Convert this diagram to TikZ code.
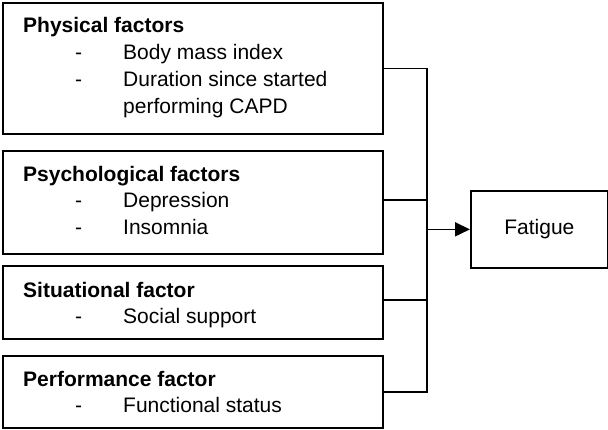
\documentclass[tikz,border=0pt]{standalone}
\usepackage{fontspec}
\setmainfont{Liberation Sans}
\usetikzlibrary{arrows.meta}
\begin{document}
\begin{tikzpicture}[x=1pt,y=-1pt,
  box/.style={draw,line width=1.7pt,anchor=north west,inner sep=0pt},
  txt/.style={anchor=base west,inner sep=0pt,font=\fontsize{21}{25}\selectfont},
  ttl/.style={txt,font=\fontsize{21}{25}\selectfont\bfseries},
  conn/.style={line width=1.7pt}]
\useasboundingbox (0,0) rectangle (608,429);
% boxes
\node[box,minimum width=380pt,minimum height=131pt] (b1) at (2,2) {};
\node[box,minimum width=380pt,minimum height=103pt] (b2) at (2,150) {};
\node[box,minimum width=380pt,minimum height=73pt] (b3) at (2,265) {};
\node[box,minimum width=380pt,minimum height=72pt] (b4) at (2,355) {};
\node[box,minimum width=137pt,minimum height=77pt] (fat) at (470,190) {};
\node[txt,anchor=center] (fatt) at (fat.center) {Fatigue};
% texts box 1
\node[ttl] (t1) at (23,32) {Physical factors};
\node[txt] (d11) at (75,59) {-};
\node[txt] (i11) at (123,59) {Body mass index};
\node[txt] (d12) at (75,86) {-};
\node[txt] (i12) at (123,86) {Duration since started};
\node[txt] (i13) at (123,113) {performing CAPD};
% box 2
\node[ttl] (t2) at (23,181) {Psychological factors};
\node[txt] (d21) at (75,207) {-};
\node[txt] (i21) at (123,207) {Depression};
\node[txt] (d22) at (75,234) {-};
\node[txt] (i22) at (123,234) {Insomnia};
% box 3
\node[ttl] (t3) at (23,297) {Situational factor};
\node[txt] (d31) at (75,323) {-};
\node[txt] (i31) at (123,323) {Social support};
% box 4
\node[ttl] (t4) at (23,386) {Performance factor};
\node[txt] (d41) at (75,412) {-};
\node[txt] (i41) at (123,412) {Functional status};
% bus
\coordinate (bus) at (427,0);
\coordinate (btop) at (b1.east -| bus);
\coordinate (bbot) at (b4.east -| bus);
\draw[conn] (b1.east) -- (btop);
\draw[conn] ([yshift=2.5pt]b2.east) -- ([yshift=2.5pt]b2.east -| bus);
\draw[conn] ([yshift=2.5pt]b3.east) -- ([yshift=2.5pt]b3.east -| bus);
\draw[conn] (b4.east) -- (bbot);
\draw[conn,line cap=rect] (btop) -- (bbot);
\draw[conn,-{Triangle[length=15pt,width=14pt]}] (fat.west -| bus) -- (fat.west);
\end{tikzpicture}
\end{document}
